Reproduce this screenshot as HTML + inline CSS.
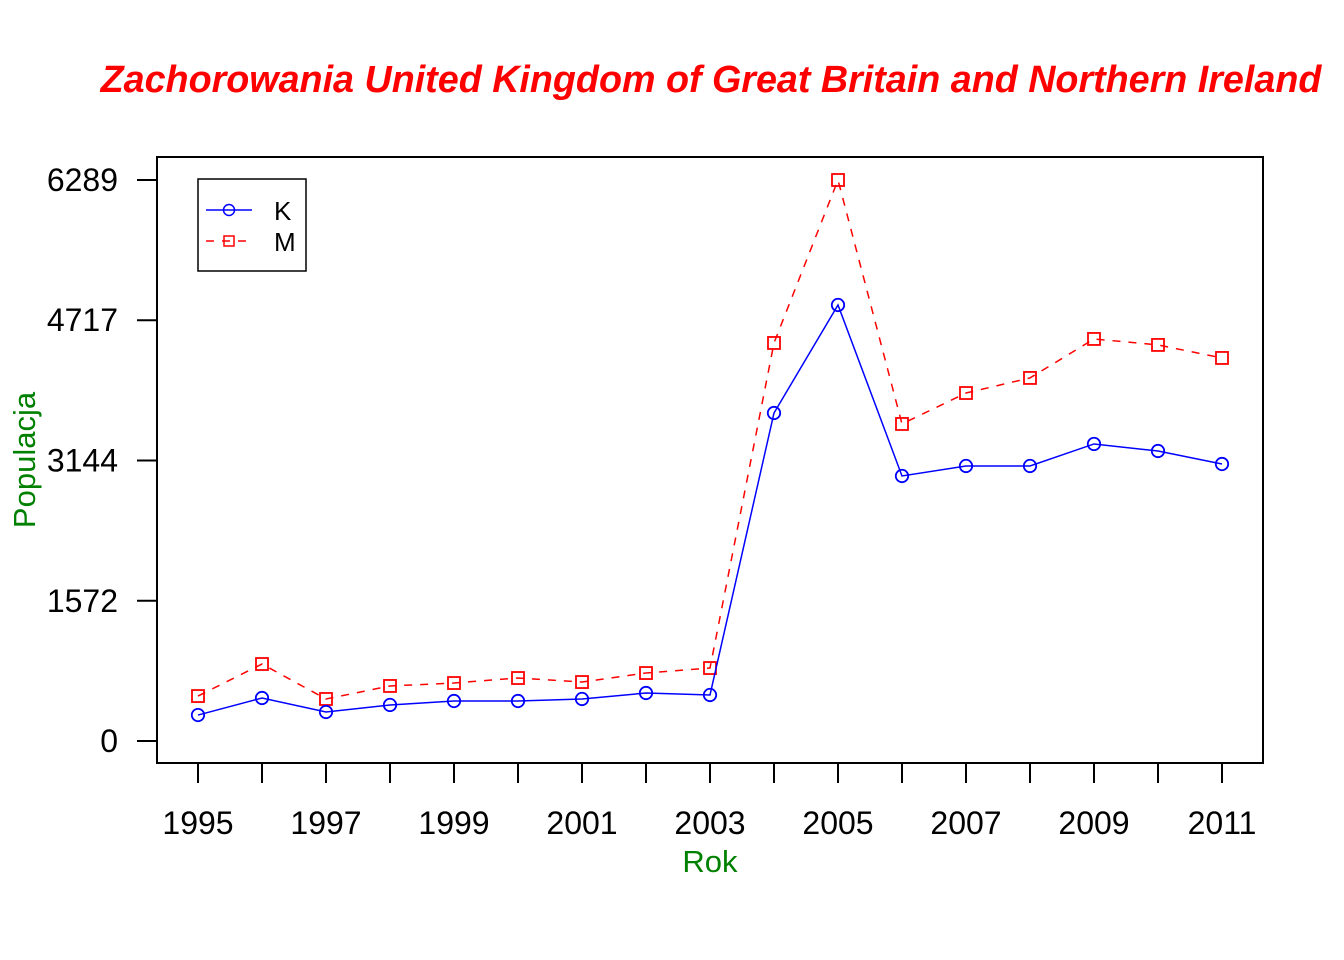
<!DOCTYPE html>
<html><head><meta charset="utf-8"><style>
body{margin:0;background:#fff}
svg{display:block;font-family:"Liberation Sans",Arial,sans-serif}
</style></head><body>
<svg id="c" width="1344" height="960">
<text x="711" y="92" text-anchor="middle" font-size="37.7" font-weight="bold" font-style="italic" fill="#ff0000">Zachorowania United Kingdom of Great Britain and Northern Ireland</text>
<rect x="157" y="157" width="1106" height="606" fill="none" stroke="#000" stroke-width="2"/>
<text x="710" y="872" text-anchor="middle" font-size="31" fill="#008000">Rok</text>
<text transform="translate(35,460) rotate(-90)" text-anchor="middle" font-size="31" fill="#008000">Populacja</text>
<g id="ax"></g><g id="marks"></g>
<g>
<rect x="198" y="179" width="108" height="92" fill="#fff" stroke="#000" stroke-width="1.5"/>
<line x1="206" y1="210" x2="252" y2="210" stroke="#0000ff" stroke-width="1.5"/>
<circle cx="229" cy="210" r="5.5" fill="none" stroke="#0000ff" stroke-width="1.5"/>
<text x="274" y="220" font-size="26">K</text>
<line x1="206" y1="241" x2="252" y2="241" stroke="#ff0000" stroke-width="1.5" stroke-dasharray="8,8"/>
<rect x="224" y="236" width="10" height="10" fill="none" stroke="#ff0000" stroke-width="1.5"/>
<text x="274" y="251" font-size="26">M</text>
</g>
</svg>
<script>
const years=[1995,1996,1997,1998,1999,2000,2001,2002,2003,2004,2005,2006,2007,2008,2009,2010,2011];
const kValues=[291,482,325,404,448,448,471,538,516,3677,4888,2971,3083,3083,3330,3251,3105];
const mValues=[504,863,471,617,650,706,661,762,818,4462,6289,3554,3901,4070,4507,4440,4294];
const yTicks=[0,1572,3144,4717,6289];
const xTickLabels=[1995,1997,1999,2001,2003,2005,2007,2009,2011];
const NS="http://www.w3.org/2000/svg";
const sx=y=>198+(y-1995)*64;
const sy=v=>741-v*(561/6289);
function mk(t,a,p){const e=document.createElementNS(NS,t);for(const k in a)e.setAttribute(k,a[k]);p.appendChild(e);return e;}
const ax=document.getElementById('ax'),mg=document.getElementById('marks');
years.forEach(y=>{const l=mk('line',{x1:sx(y),x2:sx(y),y1:763,y2:783,stroke:'#000','stroke-width':2},ax);

});
xTickLabels.forEach(y=>{const t=mk('text',{x:sx(y),y:834,'text-anchor':'middle','font-size':32},ax);t.textContent=y;

});
yTicks.forEach(v=>{const l=mk('line',{x1:137,x2:157,y1:sy(v),y2:sy(v),stroke:'#000','stroke-width':2},ax);


const t=mk('text',{x:118,y:sy(v)+11,'text-anchor':'end','font-size':32},ax);t.textContent=v;

});
function series(vals,col,dash,shape,name){
const pts=vals.map((v,i)=>sx(years[i])+','+sy(v)).join(' ');
const pl=mk('polyline',{points:pts,fill:'none',stroke:col,'stroke-width':1.5,'stroke-dasharray':dash},mg);


vals.forEach((v,i)=>{let e;
if(shape==='c')e=mk('circle',{cx:sx(years[i]),cy:sy(v),r:6.2,fill:'none',stroke:col,'stroke-width':1.8},mg);
else e=mk('rect',{x:sx(years[i])-6,y:sy(v)-6,width:12,height:12,fill:'none',stroke:col,'stroke-width':1.8},mg);

});}
series(mValues,'#ff0000','8,8','s','series-m');
series(kValues,'#0000ff','none','c','series-k');
</script>
</body></html>
